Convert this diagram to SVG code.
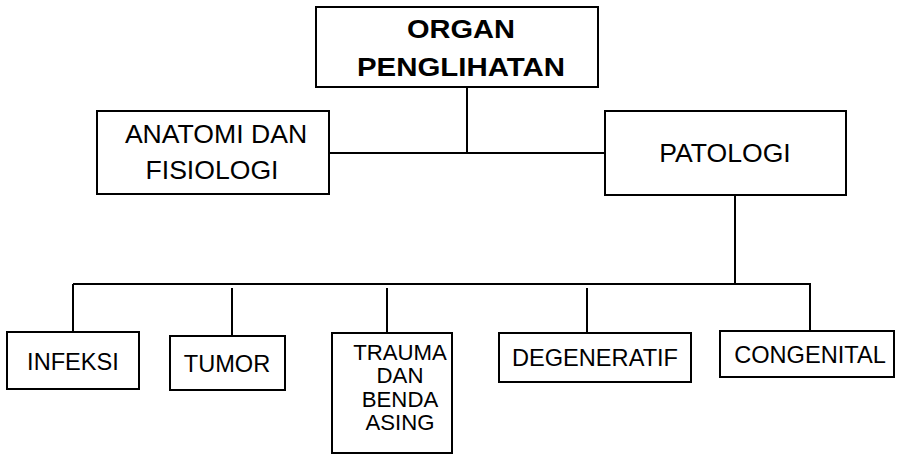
<svg xmlns="http://www.w3.org/2000/svg" width="905" height="455" viewBox="0 0 905 455">
<style>
.box{fill:#fff;stroke:#000;stroke-width:2}
.ln{stroke:#000;stroke-width:2;fill:none}
text{font-family:"Liberation Sans",Arial,sans-serif;fill:#000;text-anchor:middle}
.b{font-weight:bold;font-size:26.5px}
.t{font-size:26.6px}
.s{font-size:23.6px}
.m{font-size:22.2px}
</style>
<rect width="905" height="455" fill="#fff"/>
<g id="connectors">
<path class="ln" d="M467 87V153M329 153H605"/>
<path class="ln" d="M735 195V284M73 284H810V331M73 284V332"/>
<path class="ln" d="M232 288V336M387 288V333M587 288V333"/>
</g>
<g id="organ">
<rect class="box" x="316" y="7" width="282" height="80"/>
<text class="b" x="461" y="37.5" textLength="108" lengthAdjust="spacingAndGlyphs">ORGAN</text>
<text class="b" x="461" y="75.5" textLength="208" lengthAdjust="spacingAndGlyphs">PENGLIHATAN</text>
</g>
<g id="anatomi">
<rect class="box" x="97" y="111" width="232" height="83"/>
<text class="t" x="216" y="143">ANATOMI DAN</text>
<text class="t" x="212" y="179">FISIOLOGI</text>
</g>
<g id="patologi">
<rect class="box" x="605" y="111" width="241" height="84"/>
<text class="t" x="725" y="162">PATOLOGI</text>
</g>
<g id="infeksi">
<rect class="box" x="7" y="332" width="132" height="57"/>
<text class="s" x="73" y="370">INFEKSI</text>
</g>
<g id="tumor">
<rect class="box" x="170" y="336" width="115" height="54"/>
<text class="s" x="227" y="372">TUMOR</text>
</g>
<g id="trauma">
<rect class="box" x="332" y="333" width="120" height="120"/>
<text class="m" x="400" y="360">TRAUMA</text>
<text class="m" x="400" y="383">DAN</text>
<text class="m" x="400" y="407">BENDA</text>
<text class="m" x="400" y="430">ASING</text>
</g>
<g id="degeneratif">
<rect class="box" x="499" y="333" width="192" height="49"/>
<text class="s" x="595" y="366">DEGENERATIF</text>
</g>
<g id="congenital">
<rect class="box" x="720" y="331" width="174" height="46"/>
<text class="s" x="810" y="363">CONGENITAL</text>
</g>
</svg>
